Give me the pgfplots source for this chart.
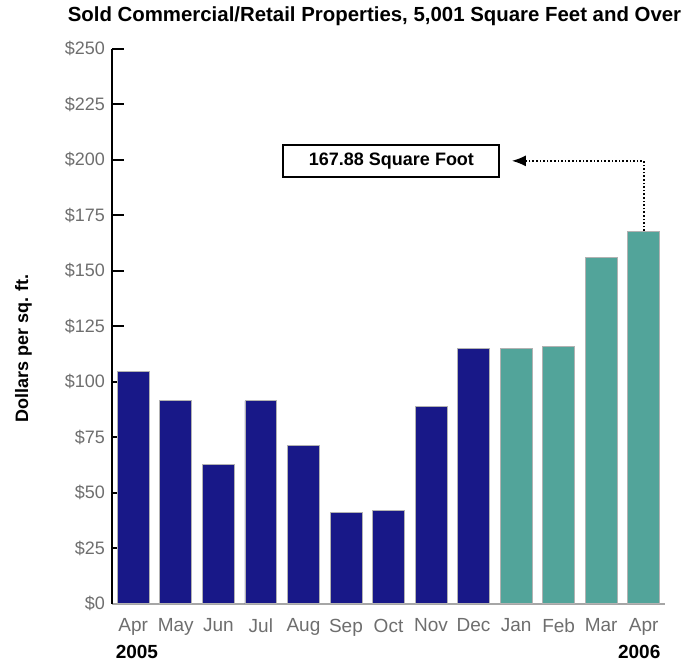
\documentclass[border=0pt]{standalone}
\usepackage{pgfplots}
\pgfplotsset{compat=1.18}
\usepackage{fontspec}
\setmainfont{Liberation Sans}
\usetikzlibrary{arrows.meta}
\definecolor{navybar}{RGB}{24,24,136}
\definecolor{tealbar}{RGB}{82,164,154}
\definecolor{ticktext}{RGB}{110,110,110}
\begin{document}
\begin{tikzpicture}
	\begin{axis}[
		scale only axis,
		width=276.5pt, height=277.5pt,
		xmin=-0.5, xmax=12.5,
		ymin=0, ymax=250,
		clip=false,
		axis x line*=bottom,
		axis y line*=left,
		x axis line style={draw=gray!70, line width=1.2pt},
		y axis line style={draw=black, line width=1.3pt},
		ytick={0,25,...,250},
		yticklabels={\$0,\$25,\$50,\$75,\$100,\$125,\$150,\$175,\$200,\$225,\$250},
		yticklabel style={font=\fontsize{9}{10}\selectfont, text=ticktext},
		y tick style={black, line width=1.2pt},
		tick align=inside,
		major tick length=6pt,
		xtick={0,...,12},
		xticklabels={Apr,May,Jun,Jul,Aug,Sep,Oct,Nov,Dec,Jan,Feb,Mar,Apr},
		xticklabel style={font=\fontsize{9.5}{10}\selectfont, text=ticktext, yshift=2pt},
		x tick style={draw=none},
		title={Sold Commercial/Retail Properties, 5,001 Square Feet and Over},
		title style={font=\bfseries\fontsize{10.2}{11}\selectfont, yshift=2pt, xshift=-7pt},
		ybar, bar width=0.75, bar shift=0pt,
		]
		\addplot[fill=navybar, draw=gray!60, line width=0.4pt] coordinates {
			(0,104.5) (1,91.4) (2,62.6) (3,91.4) (4,71.2) (5,41.0) (6,41.9) (7,89.0) (8,114.8)
		};
		\addplot[fill=tealbar, draw=gray!60, line width=0.4pt] coordinates {
			(9,115.0) (10,115.9) (11,155.9) (12,167.88)
		};
		\draw[densely dotted, line width=0.8pt, -{Latex[length=7pt,width=5.5pt]}]
			(axis cs:12,167.88) |- (axis cs:8.9,199.5);
		\node[draw=black, line width=1pt, fill=white, minimum width=108pt, minimum height=16pt,
			font=\bfseries\fontsize{9}{10}\selectfont] at (axis cs:6.07,199.5) {167.88 Square Foot};
		\node[rotate=90, font=\bfseries\fontsize{9}{10}\selectfont] at (rel axis cs:-0.16,0.46) {Dollars per sq. ft.};
		\node[anchor=west, font=\bfseries\fontsize{9.5}{10}\selectfont, inner sep=0pt] at (axis cs:-0.42,-21.5) {2005};
		\node[anchor=east, font=\bfseries\fontsize{9.5}{10}\selectfont, inner sep=0pt] at (axis cs:12.4,-21.5) {2006};
		\path (rel axis cs:-0.2025,-0.108) rectangle (rel axis cs:1.0434,1.0847);
	\end{axis}
\end{tikzpicture}
\end{document}
